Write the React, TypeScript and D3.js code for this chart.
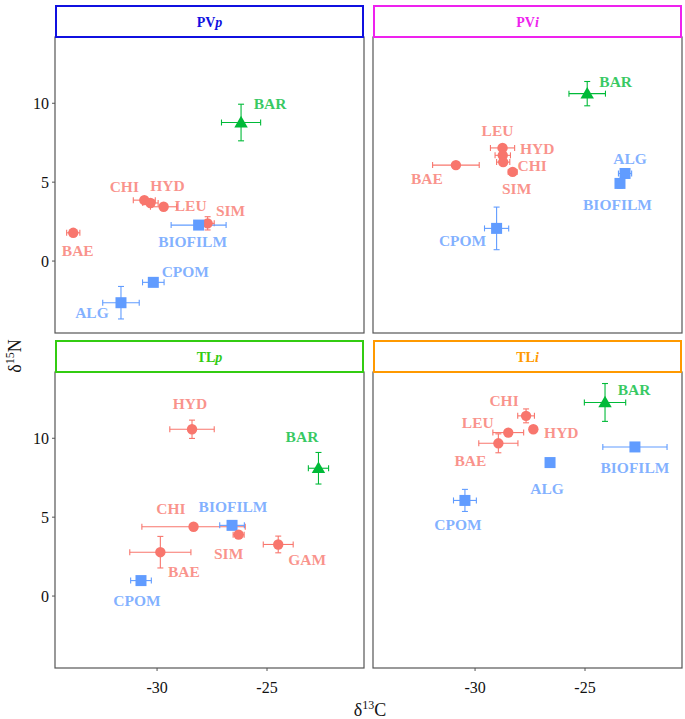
import React from "react";
import * as d3 from "d3";

// ---- data (δ13C, δ15N means with SD) ----
type Row = { taxon: string; group: string; c: number; n: number; sdC: number; sdN: number };

const panelNames = ["PVp", "PVi", "TLp", "TLi"];
const panelColors = ["#1010E0", "#EE22EE", "#33CC11", "#FF9900"];

const pvpData: Row[] = [
  { taxon: "BAR", group: "pred", c: -26.18, n: 8.78, sdC: 0.89, sdN: 1.16 },
  { taxon: "CHI", group: "cons", c: -30.58, n: 3.86, sdC: 0.5, sdN: 0.15 },
  { taxon: "HYD", group: "cons", c: -30.3, n: 3.68, sdC: 0.35, sdN: 0.15 },
  { taxon: "LEU", group: "cons", c: -29.7, n: 3.44, sdC: 0.6, sdN: 0.15 },
  { taxon: "SIM", group: "cons", c: -27.7, n: 2.39, sdC: 0.3, sdN: 0.42 },
  { taxon: "BIOFILM", group: "src", c: -28.11, n: 2.28, sdC: 1.25, sdN: 0.15 },
  { taxon: "BAE", group: "cons", c: -33.81, n: 1.79, sdC: 0.3, sdN: 0.15 },
  { taxon: "CPOM", group: "src", c: -30.17, n: -1.35, sdC: 0.49, sdN: 0.2 },
  { taxon: "ALG", group: "src", c: -31.64, n: -2.64, sdC: 0.83, sdN: 1.03 },
];
const pviData: Row[] = [
  { taxon: "BAR", group: "pred", c: -24.9, n: 10.61, sdC: 0.83, sdN: 0.77 },
  { taxon: "BAE", group: "cons", c: -30.87, n: 6.08, sdC: 1.06, sdN: 0.2 },
  { taxon: "LEU", group: "cons", c: -28.75, n: 7.17, sdC: 0.55, sdN: 0.15 },
  { taxon: "HYD", group: "cons", c: -28.74, n: 6.7, sdC: 0.35, sdN: 0.15 },
  { taxon: "CHI", group: "cons", c: -28.72, n: 6.27, sdC: 0.3, sdN: 0.15 },
  { taxon: "SIM", group: "cons", c: -28.29, n: 5.65, sdC: 0.2, sdN: 0.15 },
  { taxon: "ALG", group: "src", c: -23.18, n: 5.55, sdC: 0.3, sdN: 0.15 },
  { taxon: "BIOFILM", group: "src", c: -23.41, n: 4.92, sdC: 0.15, sdN: 0.3 },
  { taxon: "CPOM", group: "src", c: -29.02, n: 2.07, sdC: 0.55, sdN: 1.35 },
];
const tlpData: Row[] = [
  { taxon: "HYD", group: "cons", c: -28.41, n: 10.57, sdC: 1.01, sdN: 0.58 },
  { taxon: "BAR", group: "pred", c: -22.66, n: 8.1, sdC: 0.46, sdN: 1.0 },
  { taxon: "CHI", group: "cons", c: -28.34, n: 4.39, sdC: 2.35, sdN: 0.15 },
  { taxon: "BIOFILM", group: "src", c: -26.59, n: 4.48, sdC: 0.56, sdN: 0.15 },
  { taxon: "SIM", group: "cons", c: -26.29, n: 3.89, sdC: 0.25, sdN: 0.15 },
  { taxon: "GAM", group: "cons", c: -24.49, n: 3.27, sdC: 0.68, sdN: 0.53 },
  { taxon: "BAE", group: "cons", c: -29.85, n: 2.78, sdC: 1.39, sdN: 1.0 },
  { taxon: "CPOM", group: "src", c: -30.73, n: 0.98, sdC: 0.47, sdN: 0.2 },
];
const tliData: Row[] = [
  { taxon: "BAR", group: "pred", c: -24.09, n: 12.27, sdC: 0.94, sdN: 1.2 },
  { taxon: "CHI", group: "cons", c: -27.68, n: 11.42, sdC: 0.38, sdN: 0.44 },
  { taxon: "HYD", group: "cons", c: -27.35, n: 10.57, sdC: 0.15, sdN: 0.15 },
  { taxon: "LEU", group: "cons", c: -28.49, n: 10.36, sdC: 0.7, sdN: 0.15 },
  { taxon: "BAE", group: "cons", c: -28.94, n: 9.68, sdC: 0.89, sdN: 0.6 },
  { taxon: "ALG", group: "src", c: -26.59, n: 8.46, sdC: 0.2, sdN: 0.15 },
  { taxon: "BIOFILM", group: "src", c: -22.73, n: 9.45, sdC: 1.46, sdN: 0.15 },
  { taxon: "CPOM", group: "src", c: -30.46, n: 6.06, sdC: 0.52, sdN: 0.7 },
];
const panelData = [pvpData, pviData, tlpData, tliData];

// label nudges (px) in the same order as rows (repelled label placement)
const pvpLabelDx = [29, -20, 17, 27, 23, -6, 4.5, 32, -29];
const pvpLabelDy = [-19, -14, -17, -1, -13, 16, 18, -11, 10];
const pviLabelDx = [28.5, -29, -5, 34.5, 29, 4, 5, -2.5, -34];
const pviLabelDy = [-12, 13, -17, -7, 3, 17, -15, 21, 12];
const tlpLabelDx = [-2, -16.5, -22.6, 1, -10, 29, 23.5, -4];
const tlpLabelDy = [-26, -32, -18, -19, 19, 15, 19, 20];
const tliLabelDx = [29, -22, 28, -30.5, -28, -3, 0, -7];
const tliLabelDy = [-13, -15, 3, -10, 17, 26, 21, 24];
const labelDx = [pvpLabelDx, pviLabelDx, tlpLabelDx, tliLabelDx];
const labelDy = [pvpLabelDy, pviLabelDy, tlpLabelDy, tliLabelDy];

const xTicks = [-30, -25];
const yTicks = [0, 5, 10];
const xDomain = [-34.64, -20.59];
const yDomain = [-4.56, 14.2];

const groupColor: Record<string, string> = { cons: "#F8766D", pred: "#00BA38", src: "#619CFF" };

const FONT = "'Liberation Serif', 'Times New Roman', serif";

function Panel({ idx }: { idx: number }) {
  const col = idx % 2;
  const row = Math.floor(idx / 2);
  const left = col === 0 ? 55 : 373;
  const width = 309;
  const stripTop = row === 0 ? 5 : 340;
  const stripH = 32;
  const top = stripTop + stripH;
  const bottom = top + 296;
  const x = d3.scaleLinear().domain(xDomain).range([left, left + width]);
  const y = d3.scaleLinear().domain(yDomain).range([bottom, top]);
  const data = panelData[idx];
  const name = panelNames[idx];
  const tri = d3.symbol().type(d3.symbolTriangle).size(78)();
  const cap = 3;
  return (
    <g>
      <rect x={left} y={top} width={width} height={296} fill="white" stroke="#555" strokeWidth={1.2} />
      <rect x={left + 1} y={stripTop + 1} width={width - 2} height={stripH - 1} fill="white" stroke={panelColors[idx]} strokeWidth={2} />
      <text x={left + width / 2} y={stripTop + stripH / 2 + 1} textAnchor="middle" dominantBaseline="central"
        fontFamily={FONT} fontWeight="bold" fontSize={14} fill={panelColors[idx]}>
        {name.slice(0, 2)}<tspan fontStyle="italic">{name.slice(2)}</tspan>
      </text>
      {col === 0 && yTicks.map((t) => (
        <g key={"y" + t}>
          <line x1={left - 3} x2={left} y1={y(t)} y2={y(t)} stroke="#555" />
          <text x={left - 6} y={y(t)} textAnchor="end" dominantBaseline="central" fontFamily={FONT} fontSize={16} fill="#111">{t}</text>
        </g>
      ))}
      {row === 1 && xTicks.map((t) => (
        <g key={"x" + t}>
          <line x1={x(t)} x2={x(t)} y1={bottom} y2={bottom + 3} stroke="#555" />
          <text x={x(t)} y={bottom + 19} textAnchor="middle" dominantBaseline="central" fontFamily={FONT} fontSize={16} fill="#111">{t}</text>
        </g>
      ))}
      {data.map((d, i) => {
        const c = groupColor[d.group];
        const px = x(d.c), py = y(d.n);
        return (
          <g key={"e" + i} stroke={c} strokeWidth={1.1}>
            <line x1={x(d.c - d.sdC)} x2={x(d.c + d.sdC)} y1={py} y2={py} />
            <line x1={x(d.c - d.sdC)} x2={x(d.c - d.sdC)} y1={py - cap} y2={py + cap} />
            <line x1={x(d.c + d.sdC)} x2={x(d.c + d.sdC)} y1={py - cap} y2={py + cap} />
            <line x1={px} x2={px} y1={y(d.n - d.sdN)} y2={y(d.n + d.sdN)} />
            <line x1={px - cap} x2={px + cap} y1={y(d.n - d.sdN)} y2={y(d.n - d.sdN)} />
            <line x1={px - cap} x2={px + cap} y1={y(d.n + d.sdN)} y2={y(d.n + d.sdN)} />
          </g>
        );
      })}
      {data.map((d, i) => {
        const c = groupColor[d.group];
        const px = x(d.c), py = y(d.n);
        if (d.group === "cons") return <circle key={"p" + i} cx={px} cy={py} r={5.2} fill={c} />;
        if (d.group === "src") return <rect key={"p" + i} x={px - 5.5} y={py - 5.5} width={11} height={11} fill={c} />;
        return <path key={"p" + i} d={tri || ""} transform={`translate(${px},${py + 1})`} fill={c} />;
      })}
      {data.map((d, i) => (
        <text key={"l" + i} x={x(d.c) + labelDx[idx][i]} y={y(d.n) + labelDy[idx][i]} textAnchor="middle"
          dominantBaseline="central" fontFamily={FONT} fontWeight="bold" fontSize={15.5}
          fill={groupColor[d.group]} fillOpacity={0.78}>{d.taxon}</text>
      ))}
    </g>
  );
}

export default function App() {
  return (
    <svg width={685} height={719} style={{ position: "absolute", left: 0, top: 0, background: "white" }}>
      <rect width={685} height={719} fill="white" />
      {panelNames.map((_, i) => <Panel key={i} idx={i} />)}
      <text x={370} y={716} textAnchor="middle" fontFamily={FONT} fontSize={18} fill="#111">
        δ<tspan fontSize={12} dy={-7}>13</tspan><tspan dy={7}>C</tspan>
      </text>
      <text transform="translate(21,356) rotate(-90)" textAnchor="middle" fontFamily={FONT} fontSize={18} fill="#111">
        δ<tspan fontSize={12} dy={-7}>15</tspan><tspan dy={7}>N</tspan>
      </text>
    </svg>
  );
}
